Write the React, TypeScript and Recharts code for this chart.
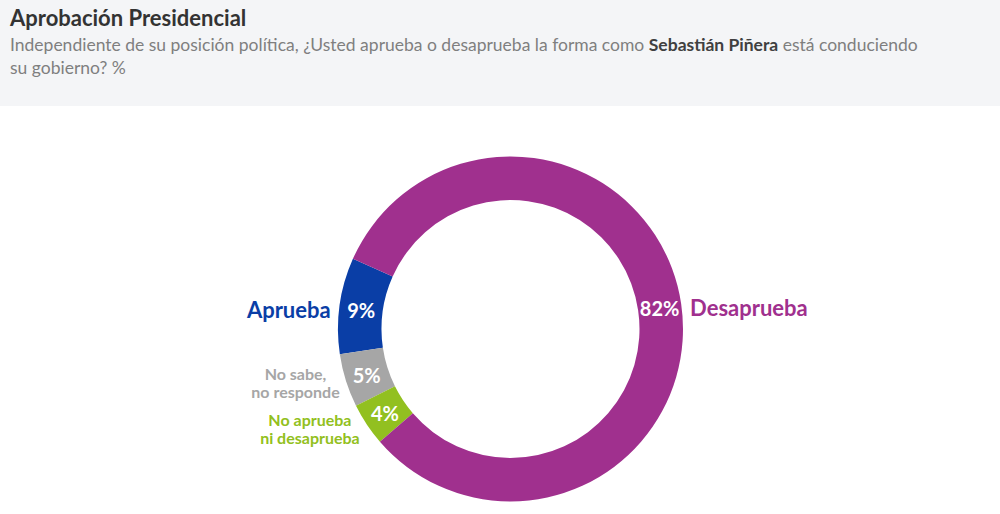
import React from 'react';
import { PieChart, Pie, Cell } from 'recharts';

const categories = ['Aprueba', 'No sabe, no responde', 'No aprueba ni desaprueba', 'Desaprueba'];
const values = [9, 5, 4, 82];
const colors = ['#0a3ea6', '#a6a6a6', '#92c020', '#a0308e'];
const labelLines = [['Aprueba'], ['No sabe,', 'no responde'], ['No aprueba', 'ni desaprueba'], ['Desaprueba']];

const data = categories.map((name, i) => ({ name, value: values[i] }));

const FONT = 'Lato, "Open Sans", sans-serif';
const RAD = Math.PI / 180;

const renderLabel = (props: any) => {
  const { cx, cy, midAngle, innerRadius, outerRadius, index, value } = props;
  const cos = Math.cos(-midAngle * RAD);
  const sin = Math.sin(-midAngle * RAD);
  const mid = (innerRadius + outerRadius) / 2;
  const ix = cx + mid * cos;
  const iy = cy + mid * sin;
  const r = outerRadius + 9;
  const ox = cx + r * cos;
  const oy = cy + r * sin;
  const lines = labelLines[index];
  const big = lines.length === 1;
  const fs = big ? 22 : 16;
  const lh = 18;
  // multi-line labels are centred on their block, right edge at the ring
  const longest = Math.max(...lines.map((l) => l.length));
  const tx = big ? ox : ox - (longest * 7.6) / 2;
  const anchor = big ? (cos < 0 ? 'end' : 'start') : 'middle';
  const start = big ? oy + 5 : oy - ((lines.length - 1) * lh) / 2 - 1;
  return (
    <g>
      <text x={ix} y={iy + 1} fill="#fff" fontSize={20} fontWeight={700} textAnchor="middle" dominantBaseline="central" fontFamily={FONT}>
        {`${value}%`}
      </text>
      <text
        x={tx}
        y={start}
        fill={colors[index]}
        fontSize={fs}
        fontWeight={700}
        textAnchor={anchor}
        dominantBaseline="central"
        fontFamily={FONT}
      >
        {lines.map((l, k) => (
          <tspan key={k} x={tx} dy={k === 0 ? 0 : lh}>
            {l}
          </tspan>
        ))}
      </text>
    </g>
  );
};

export default function App() {
  return (
    <div style={{ position: 'fixed', left: 0, top: 0, width: 1000, height: 514, background: '#fff', fontFamily: FONT }}>
      <div style={{ position: 'absolute', left: 0, top: 0, width: 1000, height: 106, background: '#f4f5f7' }}>
        <div style={{ position: 'absolute', left: 10, top: 4, fontSize: 22, fontWeight: 700, color: '#333' }}>
          Aprobación Presidencial
        </div>
        <div style={{ position: 'absolute', left: 10, top: 33, width: 960, fontSize: 17.5, lineHeight: '23px', color: '#7f7f7f' }}>
          Independiente de su posición política, ¿Usted aprueba o desaprueba la forma como{' '}
          <span style={{ fontWeight: 700, color: '#404040' }}>Sebastián Piñera</span> está conduciendo
          <br />
          su gobierno? %
        </div>
      </div>
      <div style={{ position: 'absolute', left: 0, top: 0 }}>
        <PieChart width={1000} height={514} margin={{ top: 0, right: 0, bottom: 0, left: 0 }}>
          <Pie
            data={data}
            dataKey="value"
            nameKey="name"
            cx={510.5}
            cy={329}
            innerRadius={129}
            outerRadius={172.5}
            startAngle={156}
            endAngle={516}
            stroke="none"
            labelLine={false}
            label={renderLabel}
            isAnimationActive={false}
          >
            {data.map((d, i) => (
              <Cell key={d.name} fill={colors[i]} />
            ))}
          </Pie>
        </PieChart>
      </div>
    </div>
  );
}
